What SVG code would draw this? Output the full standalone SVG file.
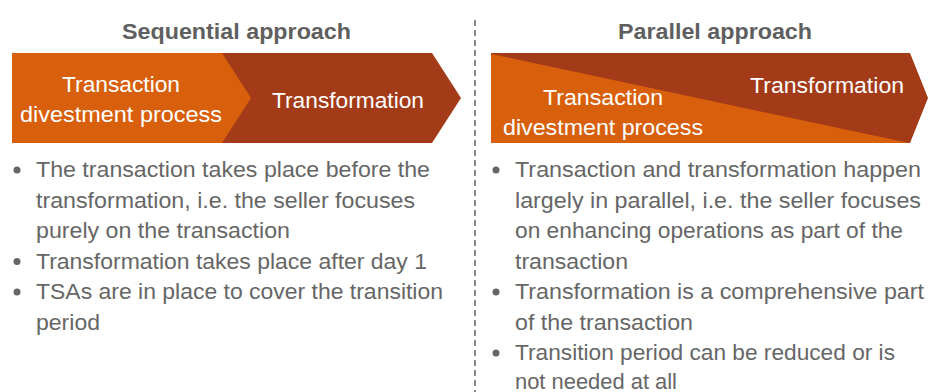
<svg xmlns="http://www.w3.org/2000/svg" width="928" height="392" viewBox="0 0 928 392">
<style>
.h{font-family:"Liberation Sans",Arial,sans-serif;font-weight:bold;font-size:22px;fill:#5f5f5f}
.w{font-family:"Liberation Sans",Arial,sans-serif;font-size:22px;fill:#fff}
.b{font-family:"Liberation Sans",Arial,sans-serif;font-size:22px;fill:#666}
.or{fill:#D85F0B}
.dk{fill:#A43B18}
.dot{fill:#666}
</style>
<rect width="928" height="392" fill="#fff"/>
<g id="sep-line"><line x1="475" y1="20" x2="475" y2="392" stroke="#888" stroke-width="2" stroke-dasharray="6,4"/></g>
<g id="sequential">
<text class="h" x="122" y="39" textLength="229" lengthAdjust="spacingAndGlyphs">Sequential approach</text>
<g id="seq-transformation"><polygon class="dk" points="222,53 432,53 461,98 432,143 222,143"/><text class="w" x="272" y="108" textLength="152" lengthAdjust="spacingAndGlyphs">Transformation</text></g>
<g id="seq-transaction"><polygon class="or" points="12,53 222,53 251,98 222,143 12,143"/><text class="w" x="62" y="92" textLength="118" lengthAdjust="spacingAndGlyphs">Transaction</text><text class="w" x="20" y="122" textLength="202" lengthAdjust="spacingAndGlyphs">divestment process</text></g>
<g id="seq-bullets">
<circle class="dot" cx="17" cy="170" r="3.5"/>
<text class="b" x="36" y="177" textLength="394" lengthAdjust="spacingAndGlyphs">The transaction takes place before the</text>
<text class="b" x="36" y="207.5" textLength="379" lengthAdjust="spacingAndGlyphs">transformation, i.e. the seller focuses</text>
<text class="b" x="36" y="238" textLength="254" lengthAdjust="spacingAndGlyphs">purely on the transaction</text>
<circle class="dot" cx="17" cy="261.5" r="3.5"/>
<text class="b" x="36" y="268.5" textLength="391" lengthAdjust="spacingAndGlyphs">Transformation takes place after day 1</text>
<circle class="dot" cx="17" cy="292" r="3.5"/>
<text class="b" x="36" y="299" textLength="407" lengthAdjust="spacingAndGlyphs">TSAs are in place to cover the transition</text>
<text class="b" x="36" y="329.5" textLength="64" lengthAdjust="spacingAndGlyphs">period</text>
</g>
</g>
<g id="parallel">
<text class="h" x="618" y="39" textLength="194" lengthAdjust="spacingAndGlyphs">Parallel approach</text>
<g id="par-transformation"><polygon class="dk" points="491,53 910,53 928,98 910,143 491,143"/><text class="w" x="750" y="93" textLength="154" lengthAdjust="spacingAndGlyphs">Transformation</text></g>
<g id="par-transaction"><polygon class="or" points="491,54 909,143 491,143"/><text class="w" x="543" y="105" textLength="120" lengthAdjust="spacingAndGlyphs">Transaction</text><text class="w" x="503" y="135" textLength="200" lengthAdjust="spacingAndGlyphs">divestment process</text></g>
<g id="par-bullets">
<circle class="dot" cx="496" cy="170" r="3.5"/>
<text class="b" x="515" y="177" textLength="406" lengthAdjust="spacingAndGlyphs">Transaction and transformation happen</text>
<text class="b" x="515" y="207.5" textLength="406" lengthAdjust="spacingAndGlyphs">largely in parallel, i.e. the seller focuses</text>
<text class="b" x="515" y="238" textLength="388" lengthAdjust="spacingAndGlyphs">on enhancing operations as part of the</text>
<text class="b" x="515" y="268.5" textLength="113" lengthAdjust="spacingAndGlyphs">transaction</text>
<circle class="dot" cx="496" cy="292" r="3.5"/>
<text class="b" x="515" y="299" textLength="409" lengthAdjust="spacingAndGlyphs">Transformation is a comprehensive part</text>
<text class="b" x="515" y="329.5" textLength="178" lengthAdjust="spacingAndGlyphs">of the transaction</text>
<circle class="dot" cx="496" cy="353" r="3.5"/>
<text class="b" x="515" y="360" textLength="380" lengthAdjust="spacingAndGlyphs">Transition period can be reduced or is</text>
<text class="b" x="515" y="389" textLength="162" lengthAdjust="spacingAndGlyphs">not needed at all</text>
</g>
</g>
</svg>
